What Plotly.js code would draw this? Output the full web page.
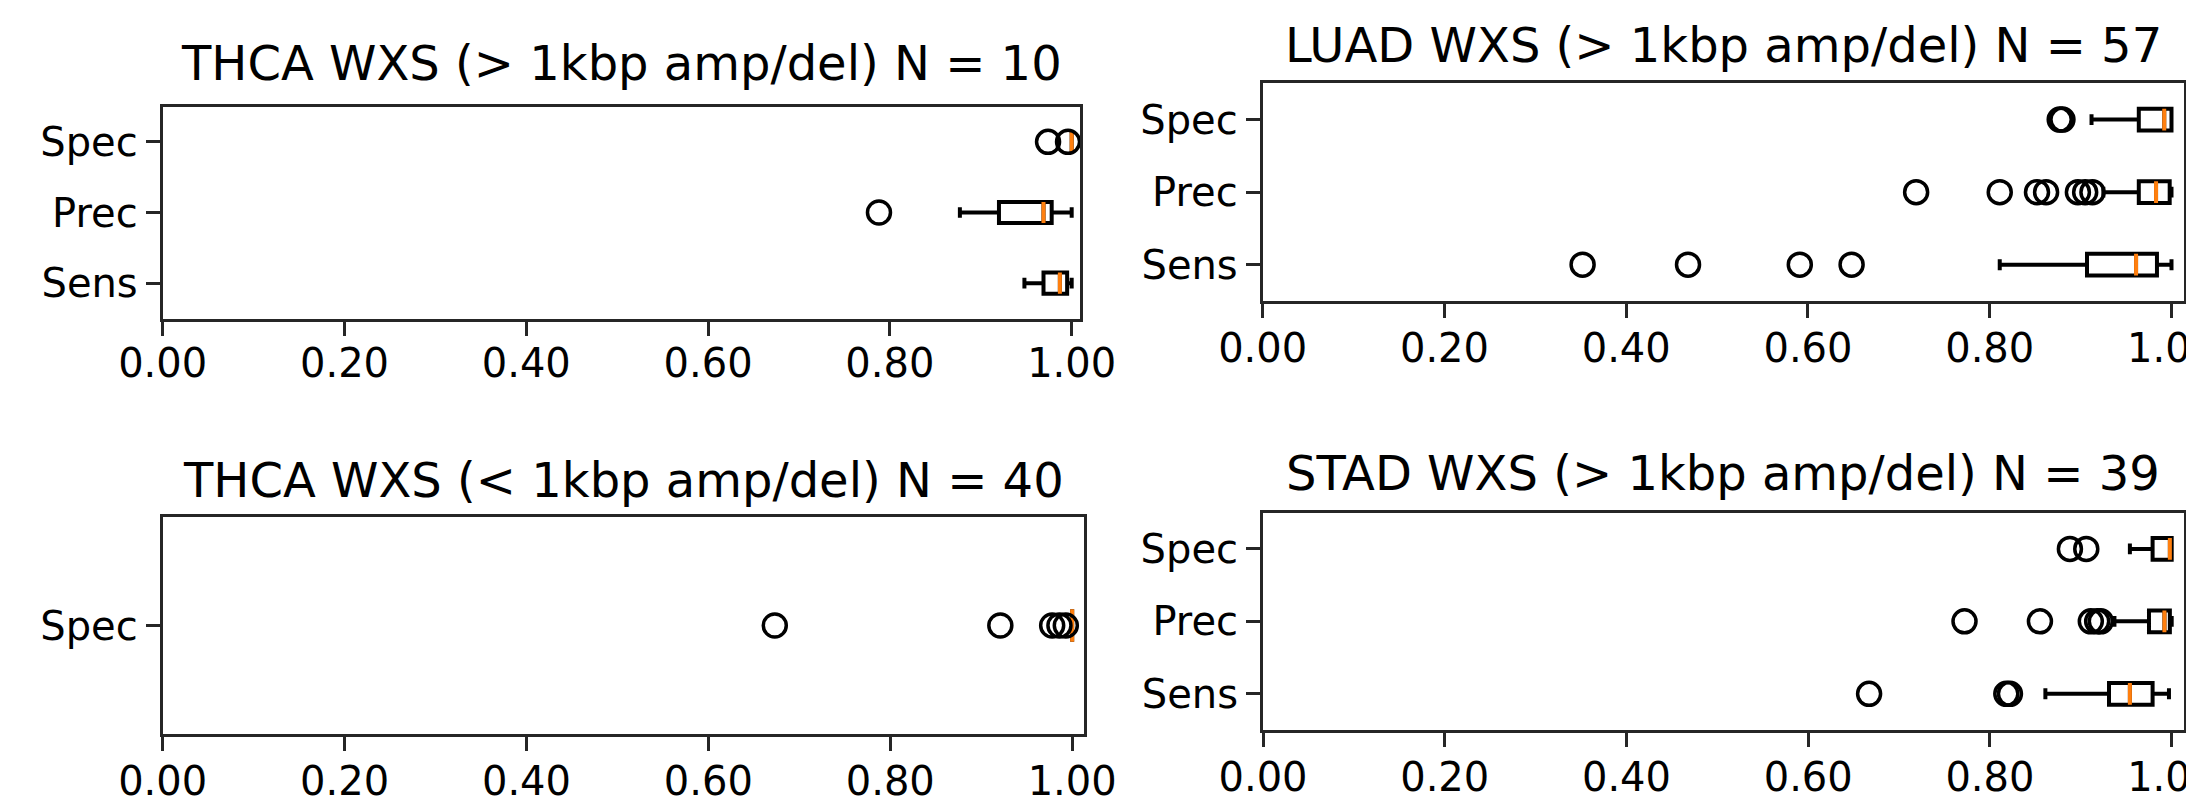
<!DOCTYPE html>
<html>
<head>
<meta charset="utf-8">
<script src="https://cdn.plot.ly/plotly-3.0.1.min.js"></script>
<style>
  html, body { margin: 0; padding: 0; background: #ffffff; }
  #chart { width: 2186px; height: 796px; }
</style>
</head>
<body>
<div id="chart"></div>
<script>
// ---------------- data ----------------
const titles = [
  'THCA WXS (> 1kbp amp/del) N = 10',
  'LUAD WXS (> 1kbp amp/del) N = 57',
  'THCA WXS (< 1kbp amp/del) N = 40',
  'STAD WXS (> 1kbp amp/del) N = 39'
];
const rowsThree = ['Sens', 'Prec', 'Spec'];
const rowsOne = ['Spec'];
const xTickVals = [0, 0.2, 0.4, 0.6, 0.8, 1.0];

// Panel 1: THCA WXS (> 1kbp)   order: Sens, Prec, Spec
const thcaGtLower  = [0.948, 0.877, 1.000];
const thcaGtQ1     = [0.969, 0.920, 1.000];
const thcaGtMedian = [0.987, 0.969, 1.000];
const thcaGtQ3     = [0.995, 0.978, 1.000];
const thcaGtUpper  = [1.000, 1.000, 1.000];
const thcaGtOutliers = [[], [0.788], [0.974, 0.996]];

// Panel 2: LUAD WXS (> 1kbp)
const luadLower  = [0.811, 0.925, 0.912];
const luadQ1     = [0.907, 0.964, 0.964];
const luadMedian = [0.961, 0.983, 0.992];
const luadQ3     = [0.984, 0.998, 1.000];
const luadUpper  = [1.000, 1.000, 1.000];
const luadOutliers = [
  [0.352, 0.468, 0.591, 0.648],
  [0.719, 0.811, 0.852, 0.862, 0.897, 0.905, 0.913],
  [0.877, 0.880]
];

// Panel 3: THCA WXS (< 1kbp)   order: Spec
const thcaLtLower  = [1.000];
const thcaLtQ1     = [1.000];
const thcaLtMedian = [1.000];
const thcaLtQ3     = [1.000];
const thcaLtUpper  = [1.000];
const thcaLtOutliers = [[0.673, 0.921, 0.978, 0.986, 0.993]];

// Panel 4: STAD WXS (> 1kbp)
const stadLower  = [0.861, 0.937, 0.954];
const stadQ1     = [0.931, 0.975, 0.979];
const stadMedian = [0.954, 0.992, 0.998];
const stadQ3     = [0.979, 0.998, 1.000];
const stadUpper  = [0.997, 1.000, 1.000];
const stadOutliers = [[0.667, 0.818, 0.822], [0.772, 0.855, 0.911, 0.918, 0.922], [0.888, 0.906]];

// ---------------- figure geometry (pixels of the 2186x796 figure) ----------------
const W = 2186, H = 796;
const panels = [
  { rows: rowsThree, lo: thcaGtLower, q1: thcaGtQ1, med: thcaGtMedian, q3: thcaGtQ3, hi: thcaGtUpper, out: thcaGtOutliers,
    px: [162.7, 1079.5], py: [106.5, 318.5], xmax: 1.0086, bw: 0.3, title: titles[0], titleBase: 80, standoff: -7 },
  { rows: rowsThree, lo: luadLower, q1: luadQ1, med: luadMedian, q3: luadQ3, hi: luadUpper, out: luadOutliers,
    px: [1262.7, 2183.5], py: [83.3, 301], xmax: 1.0132, bw: 0.3, title: titles[1], titleBase: 62, standoff: -4 },
  { rows: rowsOne, lo: thcaLtLower, q1: thcaLtQ1, med: thcaLtMedian, q3: thcaLtQ3, hi: thcaLtUpper, out: thcaLtOutliers,
    px: [162.7, 1084], py: [517, 734], xmax: 1.013, bw: 0.15, title: titles[2], titleBase: 497, standoff: -4 },
  { rows: rowsThree, lo: stadLower, q1: stadQ1, med: stadMedian, q3: stadQ3, hi: stadUpper, out: stadOutliers,
    px: [1263, 2183.5], py: [512.7, 730], xmax: 1.013, bw: 0.3, title: titles[3], titleBase: 490, standoff: -4 }
];

const FONT = 'DejaVu Sans';
const SPINE = '#262626';
const traces = [];
const layout = {
  width: W, height: H,
  margin: { l: 0, r: 0, t: 0, b: 0 },
  paper_bgcolor: '#ffffff', plot_bgcolor: '#ffffff',
  showlegend: false,
  font: { family: FONT, color: '#000000', size: 40 },
  annotations: []
};

panels.forEach((p, i) => {
  const n = i + 1;
  const xa = n === 1 ? 'x' : 'x' + n;
  const ya = n === 1 ? 'y' : 'y' + n;
  const xKey = n === 1 ? 'xaxis' : 'xaxis' + n;
  const yKey = n === 1 ? 'yaxis' : 'yaxis' + n;

  layout[xKey] = {
    domain: [p.px[0] / W, p.px[1] / W], anchor: ya,
    range: [0, p.xmax], fixedrange: true,
    tickvals: xTickVals, tickformat: '.2f',
    ticks: 'outside', ticklen: 14, tickwidth: 3, tickcolor: SPINE,
    ticklabeloverflow: 'allow', ticklabelstandoff: p.standoff,
    showline: true, mirror: true, linecolor: SPINE, linewidth: 3,
    showgrid: false, zeroline: false,
    tickfont: { family: FONT, size: 40, color: '#000000' }
  };
  layout[yKey] = {
    domain: [1 - p.py[1] / H, 1 - p.py[0] / H], anchor: xa,
    range: [0.5, p.rows.length + 0.5], fixedrange: true,
    tickvals: p.rows.map((_, k) => k + 1), ticktext: p.rows,
    ticks: 'outside', ticklen: 14, tickwidth: 3, tickcolor: SPINE,
    ticklabeloverflow: 'allow',
    showline: true, mirror: true, linecolor: SPINE, linewidth: 3,
    showgrid: false, zeroline: false,
    tickfont: { family: FONT, size: 40, color: '#000000' }
  };

  p.rows.forEach((r, k) => {
    const pos = k + 1;
    // box with whiskers
    traces.push({
      type: 'box', orientation: 'h', xaxis: xa, yaxis: ya,
      y: [pos], q1: [p.q1[k]], median: [p.med[k]], q3: [p.q3[k]],
      lowerfence: [p.lo[k]], upperfence: [p.hi[k]],
      width: p.bw, whiskerwidth: 0.5, boxpoints: false,
      line: { color: '#000000', width: 4 },
      fillcolor: 'rgba(0,0,0,0)', hoverinfo: 'skip', name: r
    });
    // orange median line
    traces.push({
      type: 'scatter', mode: 'lines', xaxis: xa, yaxis: ya,
      x: [p.med[k], p.med[k]], y: [pos - p.bw / 2, pos + p.bw / 2],
      line: { color: '#ff7f0e', width: 4 }, hoverinfo: 'skip', cliponaxis: false
    });
    // outlier points
    if (p.out[k].length) {
      traces.push({
        type: 'scatter', mode: 'markers', xaxis: xa, yaxis: ya,
        x: p.out[k], y: p.out[k].map(() => pos),
        marker: { symbol: 'circle-open', size: 23, color: '#000000', line: { width: 3.5, color: '#000000' } },
        hoverinfo: 'skip', cliponaxis: false
      });
    }
  });

  layout.annotations.push({
    text: p.title, showarrow: false,
    xref: 'paper', yref: 'paper',
    x: ((p.px[0] + p.px[1]) / 2) / W, xanchor: 'center',
    y: 1 - (p.titleBase + 13) / H, yanchor: 'bottom',
    font: { family: FONT, size: 48, color: '#000000' }
  });
});

Plotly.newPlot('chart', traces, layout, { staticPlot: true, displayModeBar: false });
</script>
</body>
</html>
